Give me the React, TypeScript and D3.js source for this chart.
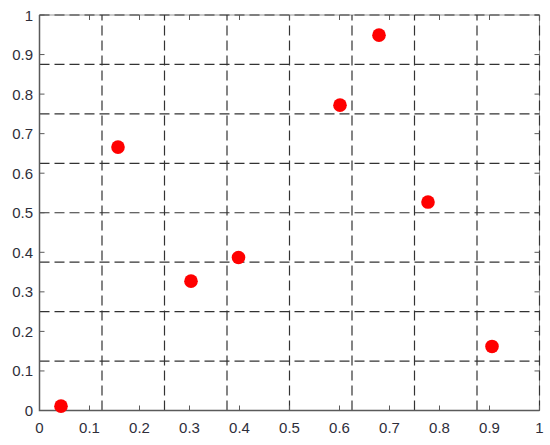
import React, { useRef, useEffect } from "react";
import * as d3 from "d3";

// scatter points
const xValues = [0.043, 0.157, 0.303, 0.398, 0.601, 0.679, 0.777, 0.905];
const yValues = [0.011, 0.666, 0.327, 0.387, 0.772, 0.949, 0.527, 0.162];
const tickValues = [0, 0.1, 0.2, 0.3, 0.4, 0.5, 0.6, 0.7, 0.8, 0.9, 1];
const gridValues = [0.125, 0.25, 0.375, 0.5, 0.625, 0.75, 0.875, 1];

export default function App() {
  const ref = useRef<SVGSVGElement>(null);

  useEffect(() => {
    const width = 550;
    const height = 445;
    const margin = { top: 15, right: 10.5, bottom: 34.5, left: 39.5 };

    const svg = d3.select(ref.current);
    svg.selectAll("*").remove();

    const x = d3.scaleLinear().domain([0, 1]).range([margin.left, width - margin.right]);
    const y = d3.scaleLinear().domain([0, 1]).range([height - margin.bottom, margin.top]);

    svg.append("rect").attr("width", width).attr("height", height).attr("fill", "#fff");

    const axisColor = "#5a5a5a";
    const textColor = "#2e2e3a";
    const font = "Liberation Sans, Arial, sans-serif";

    // box (top / right)
    svg
      .append("path")
      .attr("d", `M${x(0)},${y(1)}H${x(1)}V${y(0)}`)
      .attr("fill", "none")
      .attr("stroke", "#999")
      .attr("stroke-width", 1);

    // dashed grid
    const grid = svg.append("g").attr("stroke", "#333").attr("stroke-width", 1.2).attr("stroke-dasharray", "10,5");
    grid
      .selectAll("line.v")
      .data(gridValues)
      .enter()
      .append("line")
      .attr("x1", (d) => x(d))
      .attr("x2", (d) => x(d))
      .attr("y1", y(0))
      .attr("y2", y(1));
    grid
      .selectAll("line.h")
      .data(gridValues)
      .enter()
      .append("line")
      .attr("x1", x(0))
      .attr("x2", x(1))
      .attr("y1", (d) => y(d))
      .attr("y2", (d) => y(d));

    // inward ticks on all sides
    const tickLen = 5;
    const ticks = svg.append("g").attr("stroke", axisColor).attr("stroke-width", 1);
    tickValues.forEach((t) => {
      ticks.append("line").attr("x1", x(t)).attr("x2", x(t)).attr("y1", y(0)).attr("y2", y(0) - tickLen);
      ticks.append("line").attr("x1", x(t)).attr("x2", x(t)).attr("y1", y(1)).attr("y2", y(1) + tickLen);
      ticks.append("line").attr("x1", x(0)).attr("x2", x(0) + tickLen).attr("y1", y(t)).attr("y2", y(t));
      ticks.append("line").attr("x1", x(1)).attr("x2", x(1) - tickLen).attr("y1", y(t)).attr("y2", y(t));
    });

    // left / bottom axis lines
    svg
      .append("path")
      .attr("d", `M${x(0)},${y(1)}V${y(0)}H${x(1)}`)
      .attr("fill", "none")
      .attr("stroke", axisColor)
      .attr("stroke-width", 1.5);

    // tick labels
    svg
      .append("g")
      .selectAll("text")
      .data(tickValues)
      .enter()
      .append("text")
      .attr("x", (d) => x(d))
      .attr("y", y(0) + 22.5)
      .attr("text-anchor", "middle")
      .attr("font-family", font)
      .attr("font-size", 15)
      .attr("fill", textColor)
      .text((d) => d3.format("~g")(d));

    svg
      .append("g")
      .selectAll("text")
      .data(tickValues)
      .enter()
      .append("text")
      .attr("x", x(0) - 6.5)
      .attr("y", (d) => y(d) + 5.5)
      .attr("text-anchor", "end")
      .attr("font-family", font)
      .attr("font-size", 15)
      .attr("fill", textColor)
      .text((d) => d3.format("~g")(d));

    // points
    svg
      .append("g")
      .selectAll("circle")
      .data(xValues.map((v, i) => [v, yValues[i]]))
      .enter()
      .append("circle")
      .attr("cx", (d) => x(d[0]))
      .attr("cy", (d) => y(d[1]))
      .attr("r", 6.8)
      .attr("fill", "#ff0000");
  }, []);

  return (
    <svg
      ref={ref}
      width={550}
      height={445}
      style={{ position: "absolute", left: 0, top: 0, display: "block" }}
    ></svg>
  );
}
